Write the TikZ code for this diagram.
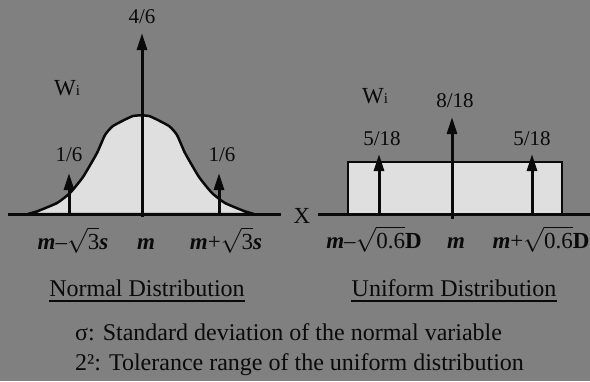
\documentclass[tikz,border=0pt]{standalone}
\usepackage{fontspec}
\setmainfont{Liberation Serif}
\usetikzlibrary{arrows.meta, positioning}
\definecolor{bggray}{HTML}{808080}
\definecolor{areagray}{HTML}{DFDFDF}
\definecolor{inkblack}{HTML}{0A0A0A}
\newcommand{\bisym}[1]{{\bfseries\itshape #1}}
\newcommand{\rootof}[1]{$\sqrt{\mbox{#1}}$}

\begin{document}
\begin{tikzpicture}[
  x=1pt, y=-1pt,
  axisline/.style={line width=3pt, inkblack},
  curveline/.style={line width=2.5pt, inkblack, fill=areagray, line join=round},
  boxline/.style={line width=2.8pt, inkblack, fill=areagray},
  weightarr/.style={-{Triangle[length=17pt, width=10pt]}, line width=3pt, inkblack},
  val/.style={font=\fontsize{21}{23}\selectfont, inner sep=0pt, text=inkblack},
  wlabel/.style={val, anchor=base west},
  ticklabel/.style={val, font=\fontsize{23}{25}\selectfont, anchor=base},
  title/.style={font=\fontsize{24}{28}\selectfont, inner sep=0pt, anchor=base, text=inkblack},
  note/.style={title, anchor=base west},
]
\useasboundingbox (0,0) rectangle (590,381);
\fill[bggray] (0,0) rectangle (590,381);
%
% ====== NORMAL DISTRIBUTION ======
\coordinate (n_axl) at (8,214);
\coordinate (n_axr) at (281,214);
\filldraw[curveline] plot[smooth, tension=0.3] coordinates {
  (28,214) (38,211) (57,203) (70,193) (83,177) (97,153) (105,135)
  (113,126) (133,116) (149,116) (169,126) (177,135) (185,153)
  (199,177) (212,193) (225,203) (244,211) (254,214)} -- cycle;
\draw[axisline] (n_axl) -- (n_axr);
\coordinate (n_b0) at (142,217); \coordinate (n_t0) at (142,33);
\coordinate (n_b1) at (69,214);  \coordinate (n_t1) at (69,173);
\coordinate (n_b2) at (219,214); \coordinate (n_t2) at (219,173);
\draw[weightarr] (n_b0) -- (n_t0);
\draw[weightarr] (n_b1) -- (n_t1);
\draw[weightarr] (n_b2) -- (n_t2);
\node[val, above=9pt of n_t0] (n_w0) {4/6};
\node[val, above=11pt of n_t1] (n_w1) {1/6};
\node[val, above=11pt of n_t2, xshift=3pt] (n_w2) {1/6};
\node[wlabel] (n_wi) at (54,95) {\fontsize{23}{23}\selectfont W{\fontsize{15}{15}\selectfont i}};
\node[ticklabel] (n_lo) at (73,249) {\bisym{m}--\rootof{3}\bisym{s}};
\node[ticklabel] (n_mid) at (146,249) {\bisym{m}};
\node[ticklabel] (n_hi) at (226,249) {\bisym{m}+\rootof{3}\bisym{s}};
%
% ====== UNIFORM DISTRIBUTION ======
\coordinate (u_axl) at (318,214);
\coordinate (u_axr) at (590,214);
\filldraw[boxline] (348,162) rectangle (562,214);
\draw[axisline] (u_axl) -- (u_axr);
\node[val, anchor=base] (u_x) at (302,223) {\fontsize{23}{23}\selectfont X};
\coordinate (u_b0) at (452,219); \coordinate (u_t0) at (452,117);
\coordinate (u_b1) at (379,214); \coordinate (u_t1) at (379,154);
\coordinate (u_b2) at (532,214); \coordinate (u_t2) at (532,154);
\draw[weightarr] (u_b0) -- (u_t0);
\draw[weightarr] (u_b1) -- (u_t1);
\draw[weightarr] (u_b2) -- (u_t2);
\node[val, above=9pt of u_t0, xshift=3pt] (u_w0) {8/18};
\node[val, above=8pt of u_t1, xshift=3pt] (u_w1) {5/18};
\node[val, above=8pt of u_t2] (u_w2) {5/18};
\node[wlabel] (u_wi) at (362,103) {\fontsize{23}{23}\selectfont W{\fontsize{15}{15}\selectfont i}};
\node[ticklabel] (u_lo) at (374,248) {\bisym{m}--\rootof{0.6}\textbf{D}};
\node[ticklabel] (u_mid) at (456,248) {\bisym{m}};
\node[ticklabel] (u_hi) at (541,248) {\bisym{m}+\rootof{0.6}\textbf{D}};
%
% ====== TITLES AND NOTES ======
\node[title] (t_norm) at (147,296) {Normal Distribution};
\node[title] (t_unif) at (454,296) {Uniform Distribution};
\draw[line width=1.6pt, inkblack] ([yshift=-5pt]t_norm.base west) -- ([yshift=-5pt]t_norm.base east);
\draw[line width=1.6pt, inkblack] ([yshift=-5pt]t_unif.base west) -- ([yshift=-5pt]t_unif.base east);
\node[note] (t_sigma) at (75,340) {σ: Standard deviation of the normal variable};
\node[note] (t_delta) at (75,370) {2²: Tolerance range of the uniform distribution};
\end{tikzpicture}
\end{document}
